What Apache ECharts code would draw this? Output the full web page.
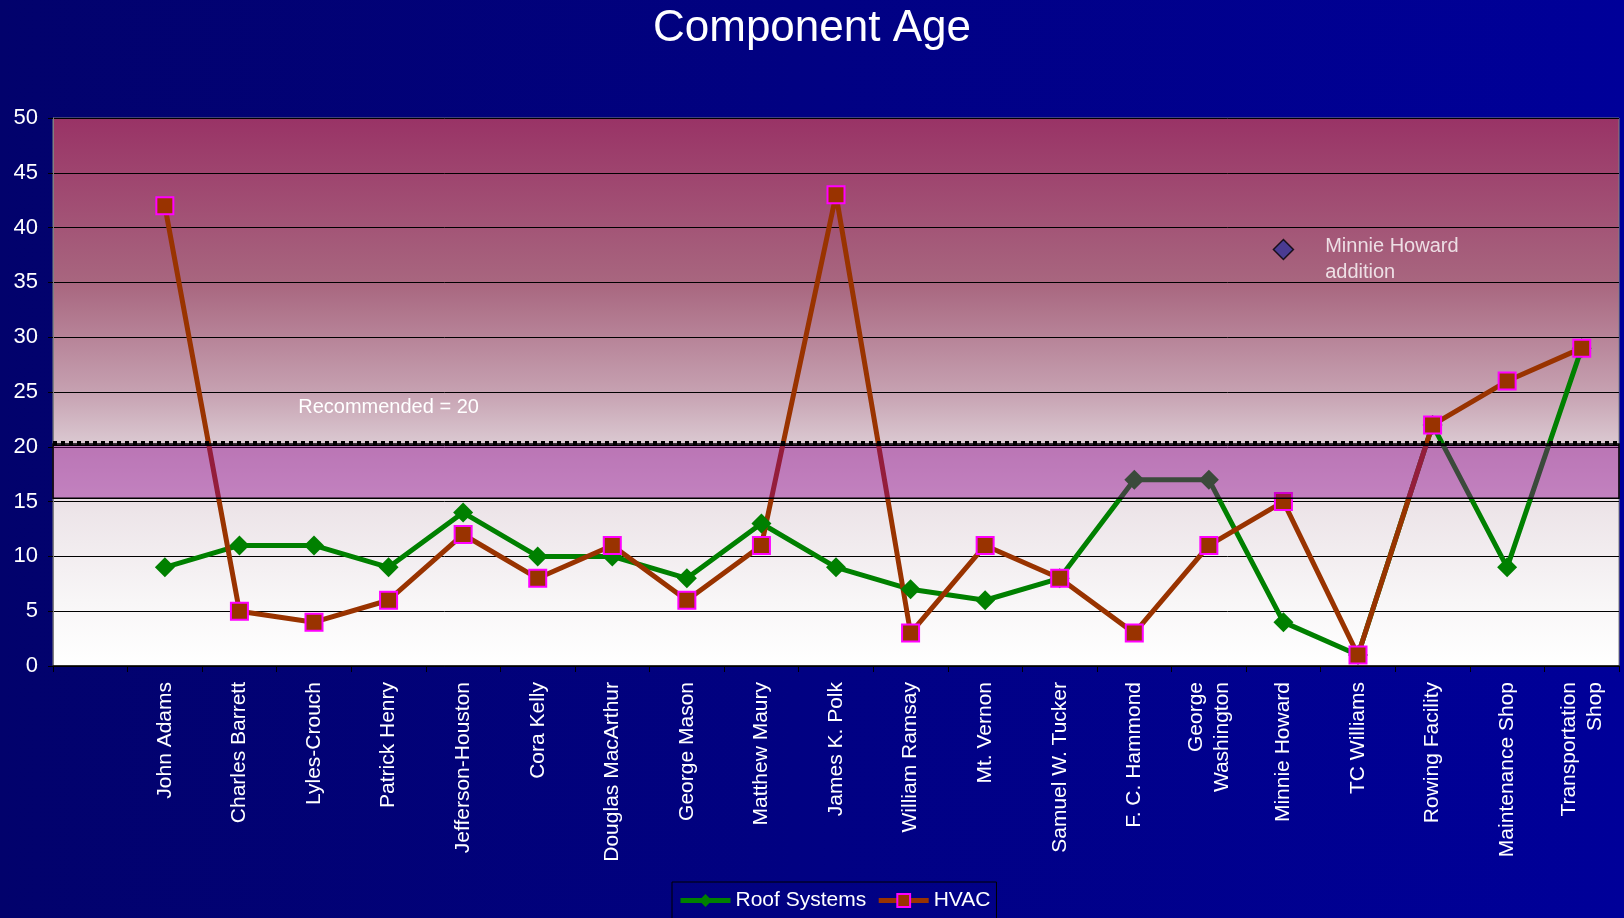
<!DOCTYPE html>
<html>
<head>
<meta charset="utf-8">
<title>Component Age</title>
<script src="https://cdn.jsdelivr.net/npm/echarts@6/dist/echarts.min.js"></script>
<style>
    html, body { margin: 0; padding: 0; }
    #main { width: 1624px; height: 918px; }
</style>
</head>
<body>
<div id="main"></div>
<script>
    // 学校 / 设施
    var schools = ['', 'John Adams', 'Charles Barrett', 'Lyles-Crouch', 'Patrick Henry', 'Jefferson-Houston',
        'Cora Kelly', 'Douglas MacArthur', 'George Mason', 'Matthew Maury', 'James K. Polk', 'William Ramsay',
        'Mt. Vernon', 'Samuel W. Tucker', 'F. C. Hammond', 'George\nWashington', 'Minnie Howard', 'TC Williams',
        'Rowing Facility', 'Maintenance Shop', 'Transportation\nShop'];
    var roofAge = ['-', 9, 11, 11, 9, 14, 10, 10, 8, 13, 9, 7, 6, 8, 17, 17, 4, 1, 22, 9, 29];
    var hvacAge = ['-', 42, 5, 4, 6, 12, 8, 11, 6, 11, 43, 3, 11, 8, 3, 11, 15, 1, 22, 26, 29];
    var additionPoint = [['Minnie Howard', 38]];
    var recommended = 20;
    var bandRange = [15.3, 20.25];
    var yTicks = [0, 50, 5];

    var chartDom = document.getElementById('main');
    var myChart = echarts.init(chartDom);

    var white = '#ffffff';
    var font = 'Arial, "Liberation Sans", sans-serif';

    var option = {
        animation: false,
        backgroundColor: new echarts.graphic.LinearGradient(0, 0, 1, 0, [
            { offset: 0, color: '#02026c' },
            { offset: 1, color: '#000099' }
        ]),
        textStyle: { fontFamily: font },
        title: {
            text: 'Component Age',
            left: 'center',
            top: 2,
            textStyle: { color: white, fontSize: 44, fontWeight: 'normal', fontFamily: font }
        },
        legend: {
            data: ['Roof Systems', 'HVAC'],
            left: 672,
            top: 882,
            padding: [8, 6, 8, 6],
            itemWidth: 50,
            itemHeight: 16,
            itemGap: 10,
            borderColor: '#000',
            borderWidth: 1,
            lineStyle: { width: 5 },
            textStyle: { color: white, fontSize: 21, fontFamily: font }
        },
        grid: {
            left: 53,
            right: 5,
            top: 118,
            bottom: 252,
            show: true,
            borderColor: '#808080',
            borderWidth: 1,
            backgroundColor: new echarts.graphic.LinearGradient(0, 0, 0, 1, [
                { offset: 0, color: '#993366' },
                { offset: 0.3, color: '#a8667f' },
                { offset: 0.5, color: '#c6a1b1' },
                { offset: 0.6, color: '#dccbd3' },
                { offset: 0.72, color: '#ede5e9' },
                { offset: 0.88, color: '#f8f6f7' },
                { offset: 1, color: '#ffffff' }
            ])
        },
        xAxis: {
            type: 'category',
            data: schools,
            boundaryGap: true,
            axisLine: { lineStyle: { color: '#000', width: 1.5 } },
            axisTick: { show: true, length: 6, lineStyle: { color: '#000' } },
            axisLabel: {
                rotate: 90,
                interval: 0,
                margin: 16,
                color: white,
                fontSize: 21,
                lineHeight: 26,
                fontFamily: font
            }
        },
        yAxis: {
            type: 'value',
            min: yTicks[0],
            max: yTicks[1],
            interval: yTicks[2],
            axisLine: { show: true, lineStyle: { color: '#808080' } },
            axisTick: { show: true, length: 5, lineStyle: { color: '#000' } },
            axisLabel: { color: white, fontSize: 22, margin: 15, fontFamily: font },
            splitLine: { show: true, lineStyle: { color: '#000', width: 1 } }
        },
        series: [
            {
                name: 'Roof Systems',
                type: 'line',
                data: roofAge,
                symbol: 'diamond',
                symbolSize: 20,
                lineStyle: { color: '#008000', width: 5 },
                itemStyle: { color: '#008000' },
                z: 2
            },
            {
                name: 'HVAC',
                type: 'line',
                data: hvacAge,
                symbol: 'rect',
                symbolSize: 17,
                lineStyle: { color: '#993300', width: 5 },
                itemStyle: { color: '#993300', borderColor: '#ff00ff', borderWidth: 2 },
                z: 2
            },
            {
                name: 'Minnie Howard addition',
                type: 'scatter',
                data: additionPoint,
                symbol: 'diamond',
                symbolSize: 20,
                itemStyle: { color: '#333399', borderColor: '#000', borderWidth: 1.5 },
                label: {
                    show: true,
                    position: 'right',
                    distance: 30,
                    offset: [1, 10],
                    formatter: 'Minnie Howard\naddition',
                    align: 'left',
                    color: white,
                    fontSize: 20,
                    lineHeight: 26,
                    fontFamily: font
                },
                z: 4,
                // 推荐范围
                markArea: {
                    z: 3,
                    silent: true,
                    itemStyle: {
                        color: 'rgba(140, 0, 140, 0.42)',
                        borderColor: '#000',
                        borderWidth: 1.5
                    },
                    label: { show: false },
                    data: [[{ yAxis: bandRange[0] }, { yAxis: bandRange[1] }]]
                },
                markLine: {
                    silent: true,
                    symbol: ['none', 'none'],
                    label: { show: false },
                    data: [
                        { yAxis: bandRange[1] + 0.12, lineStyle: { color: '#000', width: 4, type: [4, 4] } },
                        { yAxis: bandRange[1] - 0.1, lineStyle: { color: '#000', width: 1, type: 'solid' } }
                    ]
                },
                markPoint: {
                    silent: true,
                    symbol: 'circle',
                    symbolSize: 0,
                    label: {
                        show: true,
                        position: 'inside',
                        formatter: 'Recommended = ' + recommended,
                        color: white,
                        fontSize: 20,
                        fontFamily: font
                    },
                    data: [{ coord: ['Patrick Henry', 23.6] }]
                }
            }
        ]
    };

    myChart.setOption(option);
</script>
</body>
</html>
